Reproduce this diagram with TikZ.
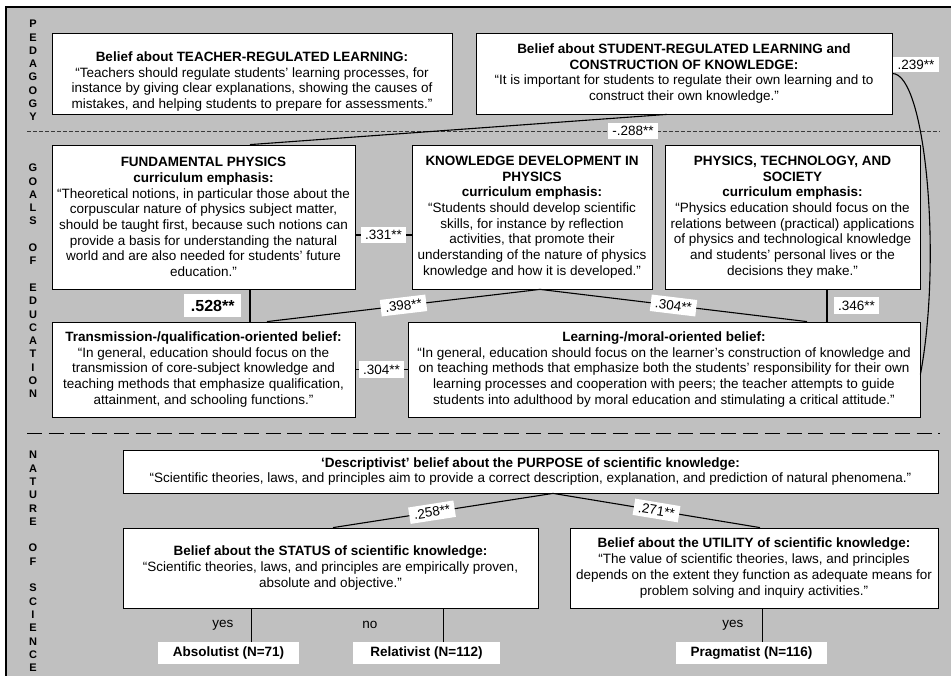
\documentclass[tikz,border=0pt]{standalone}
\usepackage{fontspec}
\setmainfont{Liberation Sans}
\usetikzlibrary{positioning}
\definecolor{panel}{RGB}{192,192,192}

\begin{document}
\begin{tikzpicture}[x=1pt, y=-1pt,
  box/.style={draw, line width=0.8pt, fill=white, align=center,
              inner xsep=2pt, inner ysep=0pt,
              font=\fontsize{13.5}{15.7}\selectfont},
  corr/.style={fill=white, inner xsep=4.5pt, inner ysep=3.5pt,
               font=\fontsize{13.5}{15}\selectfont},
  typebox/.style={fill=white, minimum height=22pt, inner xsep=13pt, inner ysep=0pt,
                  font=\fontsize{13.5}{15}\selectfont\bfseries},
  sidelabel/.style={align=center, inner sep=0pt,
                    font=\fontsize{11}{13.3}\selectfont\bfseries},
  link/.style={line width=1.1pt},
  answer/.style={font=\fontsize{13.5}{15}\selectfont}
]

\useasboundingbox (0,0) rectangle (951,676);
\clip (0,0) rectangle (951,676);

%% ── Frame and section rules ────────────────────
\draw[line width=2pt, fill=panel] (6,7.5) rectangle (990,700);
\draw[gray!45!black, line width=0.9pt, dash pattern=on 4pt off 2pt] (27,131) -- (940,131);
\draw[black, line width=0.9pt, dash pattern=on 15pt off 6.7pt] (27,433) -- (940,433);

% side headings
\node[sidelabel] (ped) at (33,70.5) {P\\E\\D\\A\\G\\O\\G\\Y};
\node[sidelabel] (goal) at (33,281)
  {G\\O\\A\\L\\S\\[13.3pt]O\\F\\[13.3pt]E\\D\\U\\C\\A\\T\\I\\O\\N};
\node[sidelabel] (nos) at (33,561.5)
  {N\\A\\T\\U\\R\\E\\[13.3pt]O\\F\\[13.3pt]S\\C\\I\\E\\N\\C\\E};

%% ── Pedagogy ───────────────────────────────────
\node[box, minimum width=400pt, minimum height=81pt] (teach) at (252,73.5)
  {\rule{0pt}{26pt}\textbf{Belief about TEACHER-REGULATED LEARNING:}\\
   “Teachers should regulate students’ learning processes, for\\
   instance by giving clear explanations, showing the causes of\\
   mistakes, and helping students to prepare for assessments.”};
\node[box, minimum width=416pt, minimum height=81pt] (stud) at (684,73.5)
  {\textbf{Belief about STUDENT-REGULATED LEARNING and}\\
   \textbf{CONSTRUCTION OF KNOWLEDGE:}\\
   “It is important for students to regulate their own learning and to\\
   construct their own knowledge.”};

%% ── Goals of education ─────────────────────────
\node[box, minimum width=303pt, minimum height=144pt] (fund) at (203.5,217)
  {\textbf{FUNDAMENTAL PHYSICS}\\
   \textbf{curriculum emphasis:}\\
   “Theoretical notions, in particular those about the\\
   corpuscular nature of physics subject matter,\\
   should be taught first, because such notions can\\
   provide a basis for understanding the natural\\
   world and are also needed for students’ future\\
   education.”};
\node[box, minimum width=240pt, minimum height=144pt] (know) at (532,217)
  {\textbf{KNOWLEDGE DEVELOPMENT IN}\\
   \textbf{PHYSICS}\\
   \textbf{curriculum emphasis:}\\
   “Students should develop scientific\\
   skills, for instance by reflection\\
   activities, that promote their\\
   understanding of the nature of physics\\
   knowledge and how it is developed.”};
\node[box, minimum width=255pt, minimum height=144pt] (pts) at (792.5,217)
  {\textbf{PHYSICS, TECHNOLOGY, AND}\\
   \textbf{SOCIETY}\\
   \textbf{curriculum emphasis:}\\
   “Physics education should focus on the\\
   relations between (practical) applications\\
   of physics and technological knowledge\\
   and students’ personal lives or the\\
   decisions they make.”};
\node[box, minimum width=303pt, minimum height=95pt] (trans) at (203.5,369.5)
  {\textbf{Transmission-/qualification-oriented belief:}\\
   “In general, education should focus on the\\
   transmission of core-subject knowledge and\\
   teaching methods that emphasize qualification,\\
   attainment, and schooling functions.”};
\node[box, minimum width=512pt, minimum height=95pt] (learn) at (664,369.5)
  {\textbf{Learning-/moral-oriented belief:}\\
   “In general, education should focus on the learner’s construction of knowledge and\\
   on teaching methods that emphasize both the students’ responsibility for their own\\
   learning processes and cooperation with peers; the teacher attempts to guide\\
   students into adulthood by moral education and stimulating a critical attitude.”};

%% ── Nature of science ──────────────────────────
\node[box, minimum width=815pt, minimum height=43pt] (descr) at (530.5,471.5)
  {\textbf{‘Descriptivist’ belief about the PURPOSE of scientific knowledge:}\\
   “Scientific theories, laws, and principles aim to provide a correct description, explanation, and prediction of natural phenomena.”};
\node[box, minimum width=415pt, minimum height=80pt] (status) at (330.5,568)
  {\textbf{Belief about the STATUS of scientific knowledge:}\\
   “Scientific theories, laws, and principles are empirically proven,\\
   absolute and objective.”};
\node[box, minimum width=368pt, minimum height=80pt] (util) at (754,568)
  {\textbf{Belief about the UTILITY of scientific knowledge:}\\
   “The value of scientific theories, laws, and principles\\
   depends on the extent they function as adequate means for\\
   problem solving and inquiry activities.”};

\node[typebox, minimum width=141pt] (absol) at (228.5,653) {Absolutist (N=71)};
\node[typebox, minimum width=147pt] (relat) at (426.5,653) {Relativist (N=112)};
\node[typebox, minimum width=151pt] (pragm) at (751.5,653) {Pragmatist (N=116)};

%% ── Correlations ───────────────────────────────
\draw[link] ([xshift=-17pt]stud.south) -- ([xshift=46.5pt]fund.north);
\node[corr] (c288) at (633,131) {-.288**};
\draw[link] (stud.east) .. controls (926,73.5) and (942,260) .. ([yshift=-5pt]learn.east);
\node[corr, anchor=south west, inner ysep=2.5pt] (c239) at ([xshift=0.5pt,yshift=1.5pt]stud.east) {.239**};

\draw[link] ([yshift=-18pt]fund.east) -- node[corr] {.331**} ([yshift=-18pt]know.west);
\draw[line width=2pt] ([xshift=46.5pt]fund.south) -- node[corr, left=8pt, inner xsep=6.5pt, inner ysep=6pt,
  font=\fontsize{16}{18}\selectfont\bfseries] {.528**} ([xshift=46.5pt]trans.north);
\draw[link] ([xshift=8pt]know.south) -- node[corr, sloped, pos=0.5] {.398**} ([xshift=63.5pt]trans.north);
\draw[link] ([xshift=8pt]know.south) -- node[corr, sloped, pos=0.5] {.304**} ([xshift=143pt]learn.north);
\draw[link] ([xshift=34.5pt]pts.south) -- node[corr, right=6pt] {.346**} ([xshift=163pt]learn.north);
\draw[link] (trans.east) -- node[corr] {.304**} (learn.west);

\draw[link] ([xshift=22.5pt]descr.south) -- node[corr, sloped, pos=0.55] {.258**} ([xshift=2.5pt]status.north);
\draw[link] ([xshift=22.5pt]descr.south) -- node[corr, sloped, pos=0.5] {.271**} ([xshift=6pt]util.north);

% typology branches
\draw[line width=0.8pt] ([xshift=-79.5pt]status.south) coordinate (sy)
  -- node[answer, left=14pt] {yes} (sy |- absol.north);
\draw[line width=0.8pt] ([xshift=112.5pt]status.south) coordinate (sn)
  -- node[answer, left=62pt] {no} (sn |- relat.north);
\draw[line width=0.8pt] ([xshift=8pt]util.south) coordinate (uy)
  -- node[answer, left=15pt] {yes} (uy |- pragm.north);

\end{tikzpicture}
\end{document}
